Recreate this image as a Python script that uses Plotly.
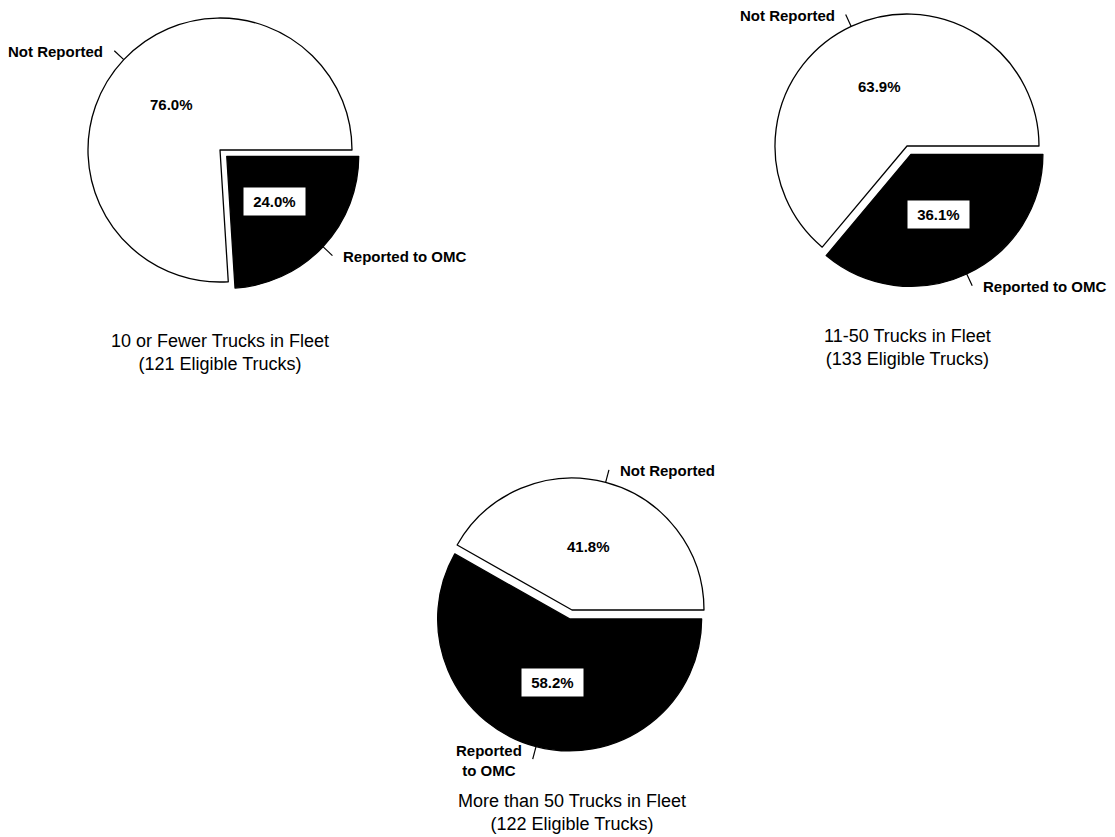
import math
import plotly.graph_objects as go

W, H = 1115, 837

# Reporting status of eligible trucks, by fleet size (percent of trucks)
fleet_titles = [
    "10 or Fewer Trucks in Fleet",
    "11-50 Trucks in Fleet",
    "More than 50 Trucks in Fleet",
]
eligible_trucks = [121, 133, 122]
status_labels = ["Reported to OMC", "Not Reported"]
reported_pct = [24.0, 36.1, 58.2]
not_reported_pct = [76.0, 63.9, 41.8]

# Layout: pie centres in pixels (from top-left), radius, and pull of the reported slice
centres = [(220, 150), (907, 146), (572, 610)]
R = 132
PULL = 0.07
outer_text = ["Reported to OMC", "Reported to OMC", "Reported<br>to OMC"]

FONT = "Liberation Sans, Arial, Helvetica, sans-serif"
LABEL_FONT = dict(family=FONT, size=15, color="black", weight=700)
TITLE_FONT = dict(family=FONT, size=18, color="black", weight=400)


def px(x, y):
    return x / W, 1 - y / H


fig = go.Figure()
annotations = []
shapes = []

for i, (cx, cy) in enumerate(centres):
    vals = [reported_pct[i], not_reported_pct[i]]
    half = R * (1 + PULL)
    fig.add_trace(go.Pie(
        values=vals,
        labels=status_labels,
        marker=dict(colors=["black", "white"], line=dict(color="black", width=1.3)),
        pull=[PULL, 0],
        sort=False,
        direction="clockwise",
        rotation=90,
        textinfo="none",
        hoverinfo="label+value",
        showlegend=False,
        domain=dict(
            x=[(cx - half) / W, (cx + half) / W],
            y=[1 - (cy + half) / H, 1 - (cy - half) / H],
        ),
    ))

    total = sum(vals)
    # slice mid-angles, measured clockwise from 3 o'clock (screen coordinates)
    a_rep = math.radians(vals[0] / total * 180)
    a_not = math.radians(vals[0] / total * 360 + vals[1] / total * 180)
    for k, (ang, val) in enumerate([(a_rep, vals[0]), (a_not, vals[1])]):
        dx, dy = math.cos(ang), math.sin(ang)
        off = PULL * R if k == 0 else 0.0
        vx, vy = cx + off * dx, cy + off * dy

        # percentage label inside the slice
        lx, ly = vx + 0.5 * R * dx, vy + 0.5 * R * dy
        x, y = px(lx, ly)
        if k == 0:
            annotations.append(dict(
                x=x, y=y, xref="paper", yref="paper", showarrow=False,
                xanchor="center", yanchor="middle",
                text="\u00a0" + f"{val:.1f}%" + "\u00a0", font=LABEL_FONT,
                bgcolor="white", borderpad=5,
            ))
        else:
            annotations.append(dict(
                x=x, y=y, xref="paper", yref="paper", showarrow=False,
                xanchor="center", yanchor="middle",
                text=f"{val:.1f}%", font=LABEL_FONT,
            ))

        # leader tick from the rim outward, then the category name
        sx, sy = vx + R * dx, vy + R * dy
        ex, ey = vx + (R + 13) * dx, vy + (R + 13) * dy
        x0, y0 = px(sx, sy)
        x1, y1 = px(ex, ey)
        shapes.append(dict(type="line", xref="paper", yref="paper",
                           x0=x0, y0=y0, x1=x1, y1=y1,
                           line=dict(color="black", width=1.2)))
        gap = 9
        tx = ex + gap if dx > 0 else ex - gap
        tx, ty = px(tx, ey + 1)
        annotations.append(dict(
            x=tx, y=ty, xref="paper", yref="paper", showarrow=False,
            text=outer_text[i] if k == 0 else status_labels[1],
            xanchor="left" if dx > 0 else "right", yanchor="middle",
            align="center", font=LABEL_FONT,
        ))

    # chart caption below the pie
    x, y = px(cx, cy + 202)
    annotations.append(dict(
        x=x, y=y, xref="paper", yref="paper", showarrow=False,
        text=f"{fleet_titles[i]}<br>({eligible_trucks[i]} Eligible Trucks)",
        font=TITLE_FONT, align="center", xanchor="center", yanchor="middle",
    ))

fig.update_layout(
    width=W, height=H,
    margin=dict(l=0, r=0, t=0, b=0),
    paper_bgcolor="white", plot_bgcolor="white",
    annotations=annotations, shapes=shapes,
)

fig.write_html("out.html")
